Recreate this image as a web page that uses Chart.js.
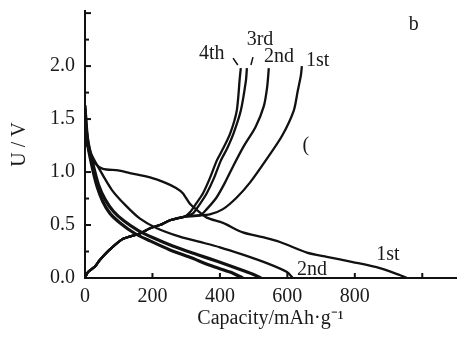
<!DOCTYPE html>
<html>
<head>
<meta charset="utf-8">
<script src="https://cdn.jsdelivr.net/npm/chart.js@4/dist/chart.umd.min.js"></script>
<style>
  html, body { margin: 0; padding: 0; background: #fff; }
  #wrap { width: 458px; height: 339px; }
</style>
</head>
<body>
<div id="wrap"><canvas id="chart"></canvas></div>
<script>
// discharge curves (capacity mAh/g, voltage V)
const dis1Cap = [0, 6, 15, 30, 53, 98, 133, 193, 237, 270, 290, 311, 332, 361, 409, 468, 527, 578, 658, 717, 794, 874, 933, 954];
const dis1V   = [1.58, 1.30, 1.16, 1.08, 1.03, 1.015, 0.99, 0.95, 0.90, 0.85, 0.80, 0.70, 0.64, 0.57, 0.52, 0.43, 0.385, 0.34, 0.24, 0.20, 0.15, 0.094, 0.028, 0];
const dis2Cap = [0, 15, 44, 80, 119, 163, 213, 281, 341, 400, 468, 539, 599, 616];
const dis2V   = [1.53, 1.20, 1.02, 0.83, 0.69, 0.56, 0.47, 0.39, 0.34, 0.29, 0.22, 0.14, 0.056, 0];
const dis3Cap = [0, 8, 24, 40, 60, 84, 115, 157, 202, 262, 334, 394, 452, 498, 522];
const dis3V   = [1.60, 1.30, 1.07, 0.88, 0.74, 0.63, 0.54, 0.45, 0.38, 0.30, 0.22, 0.155, 0.09, 0.036, 0];
const dis4Cap = [0, 6, 21, 36, 53, 74, 104, 148, 193, 252, 311, 379, 430, 468];
const dis4V   = [1.63, 1.30, 1.05, 0.86, 0.72, 0.61, 0.52, 0.42, 0.35, 0.265, 0.195, 0.11, 0.056, 0];

// charge curves
const chg1Cap = [0, 9, 30, 44, 74, 113, 163, 193, 222, 252, 296, 330, 370, 409, 450, 489, 536, 584, 619, 631, 640, 643];
const chg1V   = [0, 0.056, 0.11, 0.17, 0.27, 0.37, 0.42, 0.47, 0.50, 0.545, 0.58, 0.59, 0.60, 0.65, 0.76, 0.90, 1.11, 1.34, 1.58, 1.77, 1.91, 2.0];
const chg2Cap = [0, 9, 30, 44, 74, 113, 163, 193, 222, 252, 296, 341, 361, 390, 415, 440, 470, 505, 530, 540, 545];
const chg2V   = [0, 0.056, 0.11, 0.17, 0.27, 0.37, 0.42, 0.47, 0.50, 0.545, 0.58, 0.59, 0.65, 0.76, 0.90, 1.06, 1.24, 1.42, 1.62, 1.80, 1.98];
const chg3Cap = [0, 9, 30, 44, 74, 113, 163, 193, 222, 252, 296, 320, 341, 361, 382, 403, 421, 441, 462, 477, 480];
const chg3V   = [0, 0.056, 0.11, 0.17, 0.27, 0.37, 0.42, 0.47, 0.50, 0.545, 0.58, 0.61, 0.70, 0.80, 0.94, 1.11, 1.22, 1.37, 1.58, 1.86, 1.98];
const chg4Cap = [0, 9, 30, 44, 74, 113, 163, 193, 222, 252, 296, 311, 329, 350, 370, 391, 406, 430, 450, 459, 462];
const chg4V   = [0, 0.056, 0.11, 0.17, 0.27, 0.37, 0.42, 0.47, 0.50, 0.545, 0.58, 0.62, 0.70, 0.80, 0.94, 1.11, 1.20, 1.36, 1.58, 1.89, 1.98];

// axis ticks
const xTicks = [0, 200, 400, 600, 800];
const yTicks = [0.0, 0.5, 1.0, 1.5, 2.0];

// curve labels, in data units
const noteText = ["4th", "3rd", "2nd", "1st", "b", "1st", "2nd", "("];
const noteCap  = [376, 519, 575, 690, 975, 898, 673, 655];
const noteV    = [2.12, 2.245, 2.085, 2.05, 2.39, 0.217, 0.075, 1.25];

const FONT = "'Liberation Serif', 'Times New Roman', serif";
const INK = "#1a1a1a";

function pts(xs, ys) {
  return xs.map((x, i) => ({ x: x, y: ys[i] }));
}

function line(xs, ys, w) {
  return {
    data: pts(xs, ys),
    showLine: true,
    borderColor: "#111",
    borderWidth: w || 2.3,
    pointRadius: 0,
    tension: 0.25,
    fill: false,
  };
}

// inward tick marks, leaders and text labels
const decorations = {
  id: "decorations",
  afterDatasetsDraw(chart) {
    const ctx = chart.ctx;
    const xs = chart.scales.x;
    const ys = chart.scales.y;
    const area = chart.chartArea;
    ctx.save();
    ctx.strokeStyle = "#111";
    ctx.lineWidth = 2;
    for (let v = 0; v <= 2.5; v += 0.25) {
      const py = ys.getPixelForValue(v);
      const len = Math.abs(v * 2 - Math.round(v * 2)) < 1e-6 ? 6 : 4;
      ctx.beginPath();
      ctx.moveTo(area.left, py);
      ctx.lineTo(area.left + len, py);
      ctx.stroke();
    }
    for (let v = 200; v <= 1000; v += 200) {
      const px = xs.getPixelForValue(v);
      ctx.beginPath();
      ctx.moveTo(px, area.bottom);
      ctx.lineTo(px, area.bottom - 5);
      ctx.stroke();
    }
    // leader strokes from "4th" and "3rd"
    ctx.lineWidth = 1.5;
    ctx.beginPath();
    ctx.moveTo(xs.getPixelForValue(439), ys.getPixelForValue(2.075));
    ctx.lineTo(xs.getPixelForValue(453), ys.getPixelForValue(2.01));
    ctx.moveTo(xs.getPixelForValue(498), ys.getPixelForValue(2.085));
    ctx.lineTo(xs.getPixelForValue(492), ys.getPixelForValue(2.01));
    ctx.stroke();

    ctx.fillStyle = INK;
    ctx.font = "20px " + FONT;
    ctx.textAlign = "center";
    ctx.textBaseline = "middle";
    noteText.forEach((t, i) => {
      ctx.fillText(t, xs.getPixelForValue(noteCap[i]), ys.getPixelForValue(noteV[i]));
    });
    ctx.restore();
  },
};

new Chart(document.getElementById("chart"), {
  type: "scatter",
  data: {
    datasets: [
      line(dis1Cap, dis1V),
      line(dis2Cap, dis2V),
      line(dis3Cap, dis3V, 3.2),
      line(dis4Cap, dis4V, 3.2),
      line(chg1Cap, chg1V),
      line(chg2Cap, chg2V),
      line(chg3Cap, chg3V),
      line(chg4Cap, chg4V),
    ],
  },
  options: {
    responsive: true,
    maintainAspectRatio: false,
    animation: false,
    layout: { padding: { top: 11, right: 2, left: 0, bottom: 0 } },
    plugins: {
      legend: { display: false },
      tooltip: { enabled: false },
    },
    scales: {
      x: {
        type: "linear",
        min: 0,
        max: 1100,
        afterFit(scale) {
          scale.height = 61;
          scale.paddingLeft = 0;
          scale.paddingRight = 0;
        },
        afterBuildTicks(scale) {
          scale.ticks = xTicks.map((v) => ({ value: v }));
        },
        ticks: {
          color: INK,
          font: { family: FONT, size: 20 },
          padding: 7,
          maxRotation: 0,
          callback: (v) => String(v),
        },
        grid: { display: false, drawTicks: false },
        border: { display: true, color: "#111", width: 2 },
        title: {
          display: true,
          text: "Capacity/mAh·g⁻¹",
          color: INK,
          font: { family: FONT, size: 20 },
          padding: { top: 0, bottom: 8 },
        },
      },
      y: {
        type: "linear",
        min: 0,
        max: 2.52,
        afterFit(scale) {
          scale.width = 85;
          scale.paddingTop = 0;
          scale.paddingBottom = 0;
        },
        afterBuildTicks(scale) {
          scale.ticks = yTicks.map((v) => ({ value: v }));
        },
        ticks: {
          color: INK,
          font: { family: FONT, size: 20 },
          padding: 10,
          callback: (v) => Number(v).toFixed(1),
        },
        grid: { display: false, drawTicks: false },
        border: { display: true, color: "#111", width: 2 },
        title: {
          display: true,
          text: "U / V",
          color: INK,
          font: { family: FONT, size: 20 },
          padding: { top: 8, bottom: 0 },
        },
      },
    },
  },
  plugins: [decorations],
});
</script>
</body>
</html>
